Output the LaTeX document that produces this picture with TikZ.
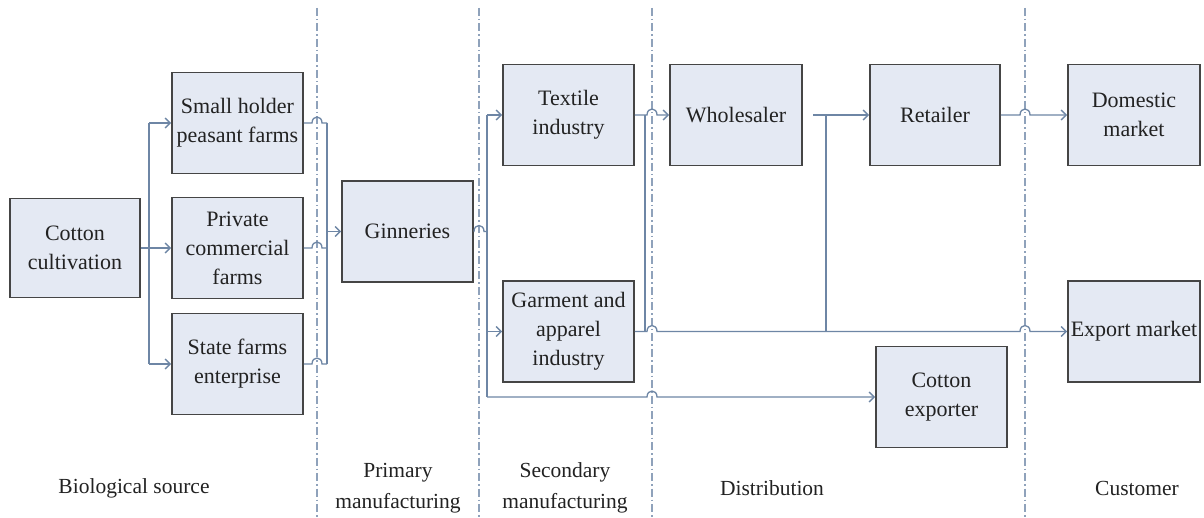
\documentclass[tikz,border=0pt]{standalone}
\usepackage{fontspec}
\setmainfont{Liberation Serif}
\usetikzlibrary{arrows.meta}
\definecolor{boxfill}{HTML}{E4E9F3}
\definecolor{boxline}{HTML}{454545}
\definecolor{connc}{HTML}{6E86A5}
\definecolor{sepc}{HTML}{8FA2BB}
\definecolor{txt}{HTML}{222222}
\begin{document}
\begin{tikzpicture}[x=1pt,y=-1pt,
 stagebox/.style={draw=boxline,fill=boxfill,line width=1.9pt,minimum width=131pt,minimum height=101pt,inner sep=0pt,align=center,text=txt,font=\fontsize{22}{29}\selectfont},
 link/.style={draw=connc,line width=1.3pt},
 arr/.style={link,-{Straight Barb[length=5pt,width=10pt]}},
 sepline/.style={draw=sepc,line width=1.2pt,dash pattern=on 8pt off 3pt on 1.5pt off 3pt},
 stagelabel/.style={align=center,text=txt,font=\fontsize{21.5}{31}\selectfont}]

\useasboundingbox[fill=white] (0,0) rectangle (1204,518);

% stage separators
\draw[sepline] (317,8) -- (317,518);
\draw[sepline] (479,8) -- (479,518);
\draw[sepline] (652,8) -- (652,518);
\draw[sepline] (1025,8) -- (1025,518);

% boxes
\node[stagebox,minimum width=130pt,minimum height=99pt] (cult) at (75,248) {Cotton\\cultivation};
\node[stagebox] (small) at (237.5,123) {Small holder\\peasant farms};
\node[stagebox] (priv) at (237.5,248) {Private\\commercial\\farms};
\node[stagebox] (state) at (237.5,364) {State farms\\enterprise};
\node[stagebox] (gin) at (407.5,231.5) {Ginneries};
\node[stagebox] (tex) at (568.5,115) {Textile\\industry};
\node[stagebox] (gar) at (568.5,331.5) {Garment and\\apparel\\industry};
\node[stagebox,minimum width=132pt] (whole) at (736,115) {Wholesaler};
\node[stagebox,minimum width=130pt] (ret) at (935,115) {Retailer};
\node[stagebox,minimum width=132pt] (dom) at (1134,115) {Domestic\\market};
\node[stagebox,minimum width=132pt] (expm) at (1134,331.5) {Export market};
\node[stagebox] (cexp) at (941.5,397) {Cotton\\exporter};

% stage labels
\node[stagelabel] (l1) at (134,488) {Biological source};
\node[stagelabel] (l2) at (398,488) {Primary\\manufacturing};
\node[stagelabel] (l3) at (565,488) {Secondary\\manufacturing};
\node[stagelabel] (l4) at (772,488) {Distribution};
\node[stagelabel] (l5) at (1137,488) {Customer};

% junction coordinates
\coordinate (j1t) at (149,123);
\coordinate (j1m) at (149,248);
\coordinate (j1b) at (149,364);
\coordinate (j2t) at (327,123);
\coordinate (j2m) at (327,231.5);
\coordinate (j2b) at (327,364);
\coordinate (j3t) at (487,115);
\coordinate (j3m) at (487,331.5);
\coordinate (j3b) at (487,397);
\coordinate (j4t) at (645,115);
\coordinate (j4b) at (645,331.5);
\coordinate (wout) at (813,115);
\coordinate (j5t) at (826,115);
\coordinate (j5b) at (826,331.5);

% cultivation to farms
\draw[link] (cult.east) -- (j1m);
\draw[link] (j1t) -- (j1b);
\draw[arr] (j1t) -- (small.west);
\draw[arr] (j1m) -- (priv.west);
\draw[arr] (j1b) -- (state.west);

% farms to ginneries
\draw[link] (small.east) -- (312,123) .. controls (312,115) and (322,115) .. (322,123) -- (j2t);
\draw[link] (priv.east) -- (312,248) .. controls (312,240) and (322,240) .. (322,248) -- (327,248);
\draw[link] (state.east) -- (312,364) .. controls (312,356) and (322,356) .. (322,364) -- (j2b);
\draw[link] (j2t) -- (j2b);
\draw[arr] (j2m) -- (gin.west);

% ginneries to secondary
\draw[link] (gin.east) -- (474,231.5) .. controls (474,223.5) and (484,223.5) .. (484,231.5) -- (487,231.5);
\draw[link] (j3t) -- (j3b);
\draw[arr] (j3t) -- (tex.west);
\draw[arr] (j3m) -- (gar.west);
\draw[arr] (j3b) -- (647,397) .. controls (647,389) and (657,389) .. (657,397) -- (cexp.west);

% textile
\draw[arr] (tex.east) -- (647,115) .. controls (647,107) and (657,107) .. (657,115) -- (whole.west);
\draw[link] (j4t) -- (j4b);

% garment to export market
\draw[arr] (gar.east) -- (647,331.5) .. controls (647,323.5) and (657,323.5) .. (657,331.5) -- (1020,331.5) .. controls (1020,323.5) and (1030,323.5) .. (1030,331.5) -- (expm.west);

% wholesaler to retailer
\draw[arr] (wout) -- (ret.west);
\draw[link] (j5t) -- (j5b);

% retailer to domestic
\draw[arr] (ret.east) -- (1020,115) .. controls (1020,107) and (1030,107) .. (1030,115) -- (dom.west);
\end{tikzpicture}
\end{document}
